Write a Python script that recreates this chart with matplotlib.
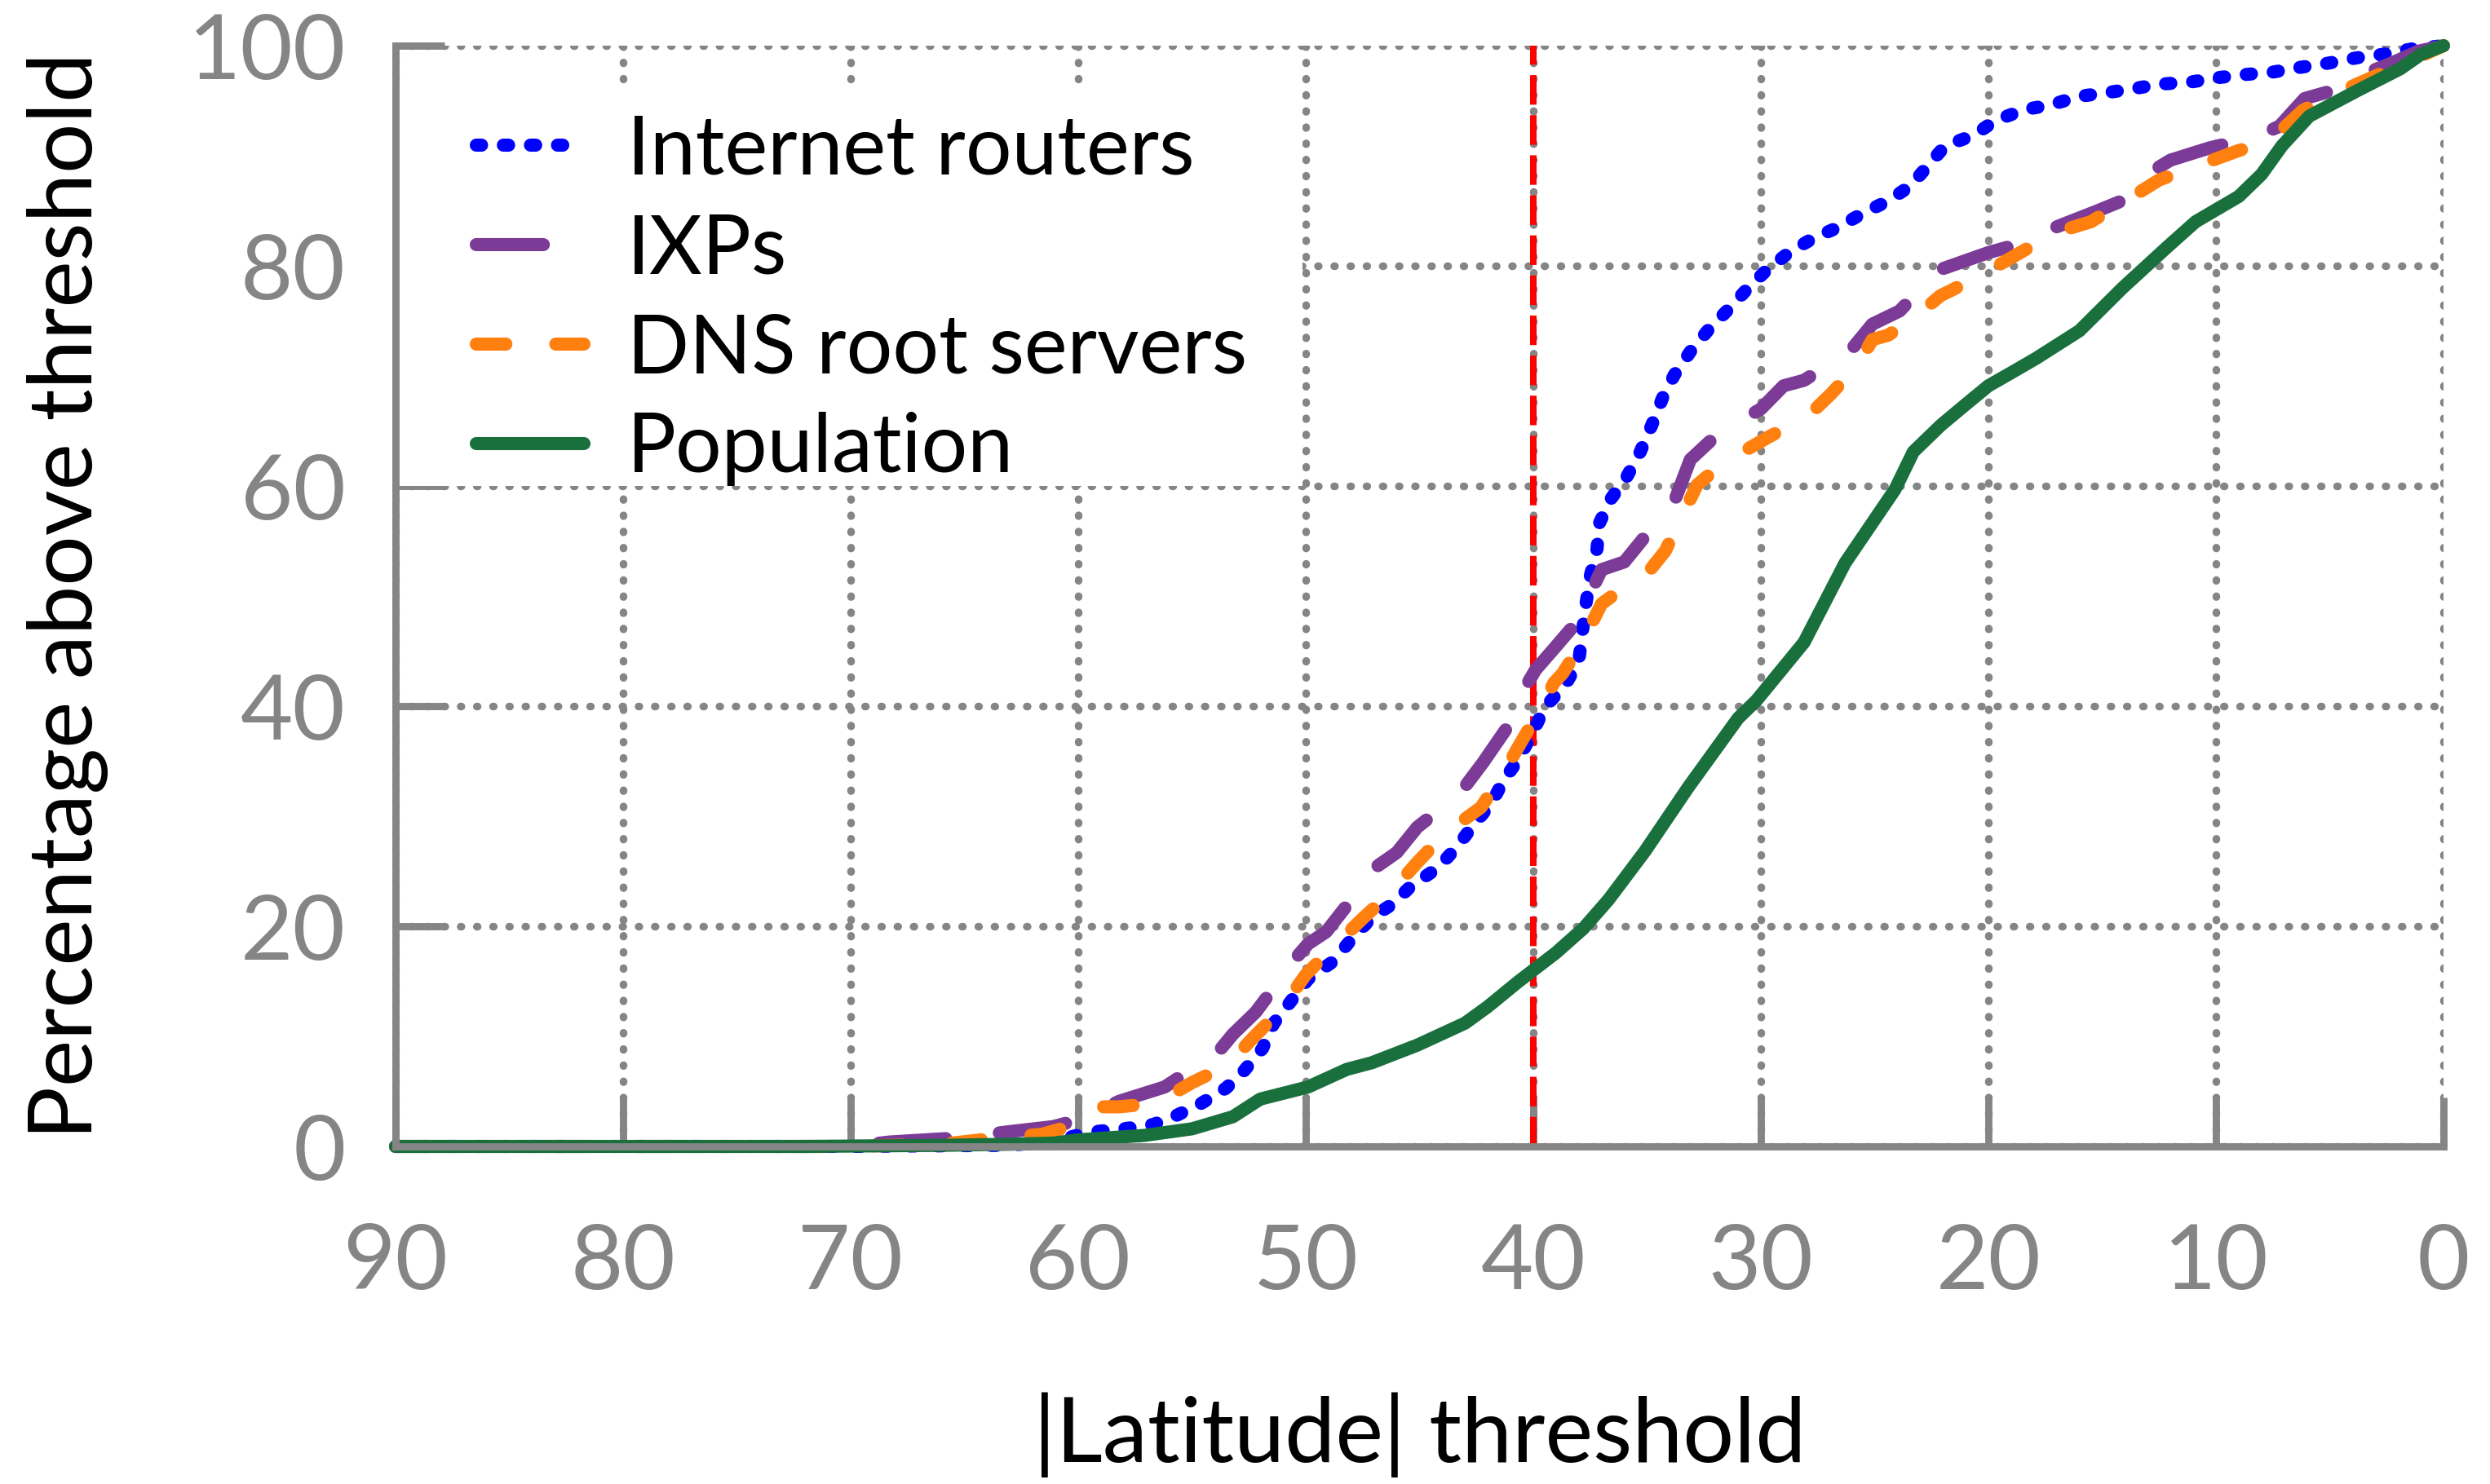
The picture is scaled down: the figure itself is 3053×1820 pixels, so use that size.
import matplotlib
matplotlib.use("Agg")
import matplotlib.pyplot as plt
from matplotlib.patches import Rectangle

plt.rcParams['font.family'] = ['Lato', 'DejaVu Sans']

GRAY = "#858585"

# |latitude| threshold (x) and percentage above threshold (y) for each series
routers_lat = [90, 70, 63, 61, 59.5, 58.0, 56.7, 55.7, 54.6, 53.5, 52.7, 51.9, 51.4, 49.9, 48.8, 48.0,
               47.1, 46.2, 45.4, 44.2, 43.4, 42.7, 41.8, 41.3, 40.7, 40.0, 39.5, 38.6, 38.0, 37.7,
               37.5, 37.2, 37.1, 36.6, 35.9, 35.3, 34.8, 34.3, 33.8, 33.1, 32.3, 31.4, 30.6, 29.7,
               28.7, 27.7, 26.6, 25.5, 24.4, 23.4, 22.7, 21.9, 20.6, 19.7, 18.4, 17.3, 16.0, 14.9,
               13.6, 12.5, 11.1, 9.9, 8.6, 7.5, 6.4, 5.1, 3.8, 2.7, 1.4, 0]
routers_pct = [0, 0, 0.1, 0.5, 1.3, 1.6, 2.0, 2.8, 3.9, 5.3, 6.9, 8.9, 11.2, 15.2, 16.8, 18.8,
               20.8, 22.0, 23.6, 25.3, 27.1, 29.0, 31.3, 33.3, 35.0, 37.7, 39.9, 41.9, 44.1, 49.1,
               51.8, 54.3, 56.6, 58.8, 60.8, 63.1, 65.5, 68.1, 70.1, 72.2, 74.2, 76.1, 77.9, 79.7,
               81.3, 82.5, 83.5, 84.8, 85.9, 87.3, 89.0, 90.9, 91.9, 93.2, 94.2, 94.6, 95.4, 95.7,
               96.1, 96.5, 96.7, 97.1, 97.4, 97.6, 98.0, 98.4, 98.9, 99.2, 99.7, 100]

ixp_lat = [90, 70, 68.3, 65.1, 63.2, 61.1, 60.0, 58.2, 56.2, 55.1, 53.8, 53.2, 52.2, 51.4, 50.4,
           49.9, 49.1, 48.0, 46.9, 46.0, 45.1, 44.3, 43.0, 42.2, 41.0, 40.3, 39.9, 39.1, 38.1,
           37.3, 37.0, 36.0, 34.9, 33.8, 33.1, 31.9, 30.5, 30.0, 29.0, 28.1, 27.5, 26.1, 25.1,
           23.9, 23.4, 22.2, 20.0, 18.8, 17.3, 15.2, 13.9, 12.8, 12.0, 10.3, 9.5, 7.8, 7.2, 6.1,
           4.9, 3.4, 2.3, 1.1, 0]
ixp_pct = [0, 0, 0.4, 0.8, 1.3, 1.8, 2.4, 4.1, 5.4, 6.9, 8.7, 10.2, 12.2, 14.4, 17.2,
           18.4, 19.5, 22.4, 25.4, 26.7, 29.0, 30.3, 32.7, 34.9, 38.5, 41.9, 43.3, 45.2, 47.6,
           51.1, 52.4, 53.1, 55.9, 58.6, 62.4, 64.7, 66.4, 67.0, 69.1, 69.6, 70.4, 72.2, 74.7,
           75.9, 77.0, 79.6, 81.2, 81.9, 83.3, 85.0, 86.1, 88.6, 89.6, 90.7, 91.1, 92.1, 92.7, 95.2,
           95.9, 97.5, 98.4, 99.5, 100]

dns_lat = [90, 70, 66, 63.4, 61.6, 59.9, 58.9, 58.2, 56.7, 56.0, 55.0, 53.5, 53.2, 52.3, 51.1,
           50.0, 48.8, 47.5, 46.3, 45.1, 43.9, 43.1, 42.3, 41.4, 40.6, 39.7, 39.1, 38.7, 37.8,
           37.0, 35.6, 34.9, 34.2, 33.5, 32.8, 32.4, 31.3, 30.8, 29.7, 28.2, 27.9, 26.9, 25.7,
           25.1, 24.4, 23.2, 22.1, 21.7, 20.2, 18.6, 17.1, 15.5, 13.9, 12.5, 10.8, 9.1, 7.6, 6.2,
           4.8, 1.6, 0]
dns_pct = [0, 0, 0.2, 0.8, 1.1, 2.1, 3.6, 3.6, 3.9, 4.6, 5.8, 7.3, 7.9, 9.9, 12.4,
           15.6, 18.1, 20.7, 23.0, 25.8, 28.4, 29.6, 30.8, 33.6, 36.5, 39.7, 42.1, 43.0, 46.0,
           49.3, 51.4, 52.3, 54.1, 57.1, 60.1, 60.8, 62.5, 63.1, 64.4, 66.1, 66.4, 68.4, 71.1,
           73.3, 73.7, 75.4, 77.3, 77.7, 79.3, 81.2, 83.0, 84.0, 86.0, 87.8, 89.1, 90.4, 91.4, 94.1,
           95.6, 98.5, 100]

pop_lat = [90, 72, 66, 63, 61.1, 60, 57.1, 55.0, 53.2, 52.0, 49.9, 48.2, 47.1, 45.1, 43.0, 42.0,
           40.7, 39.0, 37.8, 36.7, 35.1, 33.2, 31.0, 30.2, 28.1, 26.3, 24.1, 23.3, 22.1, 21.0,
           20.0, 18.9, 17.9, 16.0, 14.1, 12.2, 10.9, 9.0, 8.0, 7.1, 5.9, 3.8, 1.9, 1.0, 0]
pop_pct = [0, 0, 0.1, 0.2, 0.3, 0.6, 1.0, 1.6, 2.7, 4.3, 5.4, 7.0, 7.6, 9.2, 11.2, 12.7,
           14.9, 17.6, 19.8, 22.4, 26.8, 32.6, 38.9, 40.5, 45.8, 53.0, 59.7, 63.1, 65.5, 67.4,
           69.1, 70.4, 71.6, 74.1, 78.0, 81.6, 84.0, 86.3, 88.3, 90.9, 93.6, 95.9, 97.9, 99.2, 100]

threshold = 40
x_ticks = [90, 80, 70, 60, 50, 40, 30, 20, 10, 0]
y_ticks = [0, 20, 40, 60, 80, 100]

fig = plt.figure(figsize=(3053 / 200, 1820 / 200), dpi=200)
ax = fig.add_axes([485 / 3053, 1 - 1406 / 1820, 2511 / 3053, 1350 / 1820])

lw = 5.8
ax.plot(routers_lat, routers_pct, color="#0000FF", lw=lw, dashes=(0.4, 1.66),
        dash_capstyle="round", label="Internet routers", zorder=3, clip_on=False)
ax.plot(ixp_lat, ixp_pct, color="#7B3B96", lw=lw, dashes=(5.1, 4.1),
        dash_capstyle="round", solid_joinstyle="round", label="IXPs", zorder=3, clip_on=False)
ax.plot(dns_lat, dns_pct, color="#FF7F0F", lw=lw, dashes=(2.25, 3.8),
        dash_capstyle="round", label="DNS root servers", zorder=3, clip_on=False)
ax.plot(pop_lat, pop_pct, color="#1A703D", lw=lw, solid_capstyle="round",
        label="Population", zorder=3, clip_on=False)

ax.axvline(threshold, color="red", lw=2.9, dashes=(4.5, 1.6), zorder=2)

ax.set_xlim(90, 0)
ax.set_ylim(0, 100)
ax.set_xticks(x_ticks)
ax.set_yticks(y_ticks)

ax.grid(True, color=GRAY, lw=3.4, linestyle=(0, (0.1, 2.0)), zorder=0)
ax.set_axisbelow(True)
for gl in ax.get_xgridlines() + ax.get_ygridlines():
    gl.set_dash_capstyle("round")

for s in ["top", "right"]:
    ax.spines[s].set_visible(False)
for s in ["left", "bottom"]:
    ax.spines[s].set_color(GRAY)
    ax.spines[s].set_linewidth(3.2)
    ax.spines[s].set_zorder(6)

ax.tick_params(axis="both", direction="in", length=21.6, width=3.2, color=GRAY,
               labelcolor=GRAY, labelsize=40)
ax.tick_params(axis="x", pad=34)
ax.tick_params(axis="y", pad=22)

ax.set_xlabel("|Latitude| threshold", fontsize=40, color="black", va="center")
ax.xaxis.set_label_coords(0.5, -0.262)
ax.set_ylabel("Percentage above threshold", fontsize=39, color="black", va="center")
ax.yaxis.set_label_coords(-0.160, 0.5)

# white block behind the legend hides the grid there
ax.add_patch(Rectangle((0, 0.60), 0.443, 0.362, transform=ax.transAxes,
                       facecolor="white", edgecolor="none", zorder=1))

leg = ax.legend(loc="upper left", bbox_to_anchor=(0.0235, 0.968), frameon=False,
                fontsize=36, handlelength=1.32, handletextpad=0.53, labelspacing=0.31,
                borderpad=0.4, borderaxespad=0.0)
leg.set_zorder(5)

fig.savefig("out.png", dpi=200)
